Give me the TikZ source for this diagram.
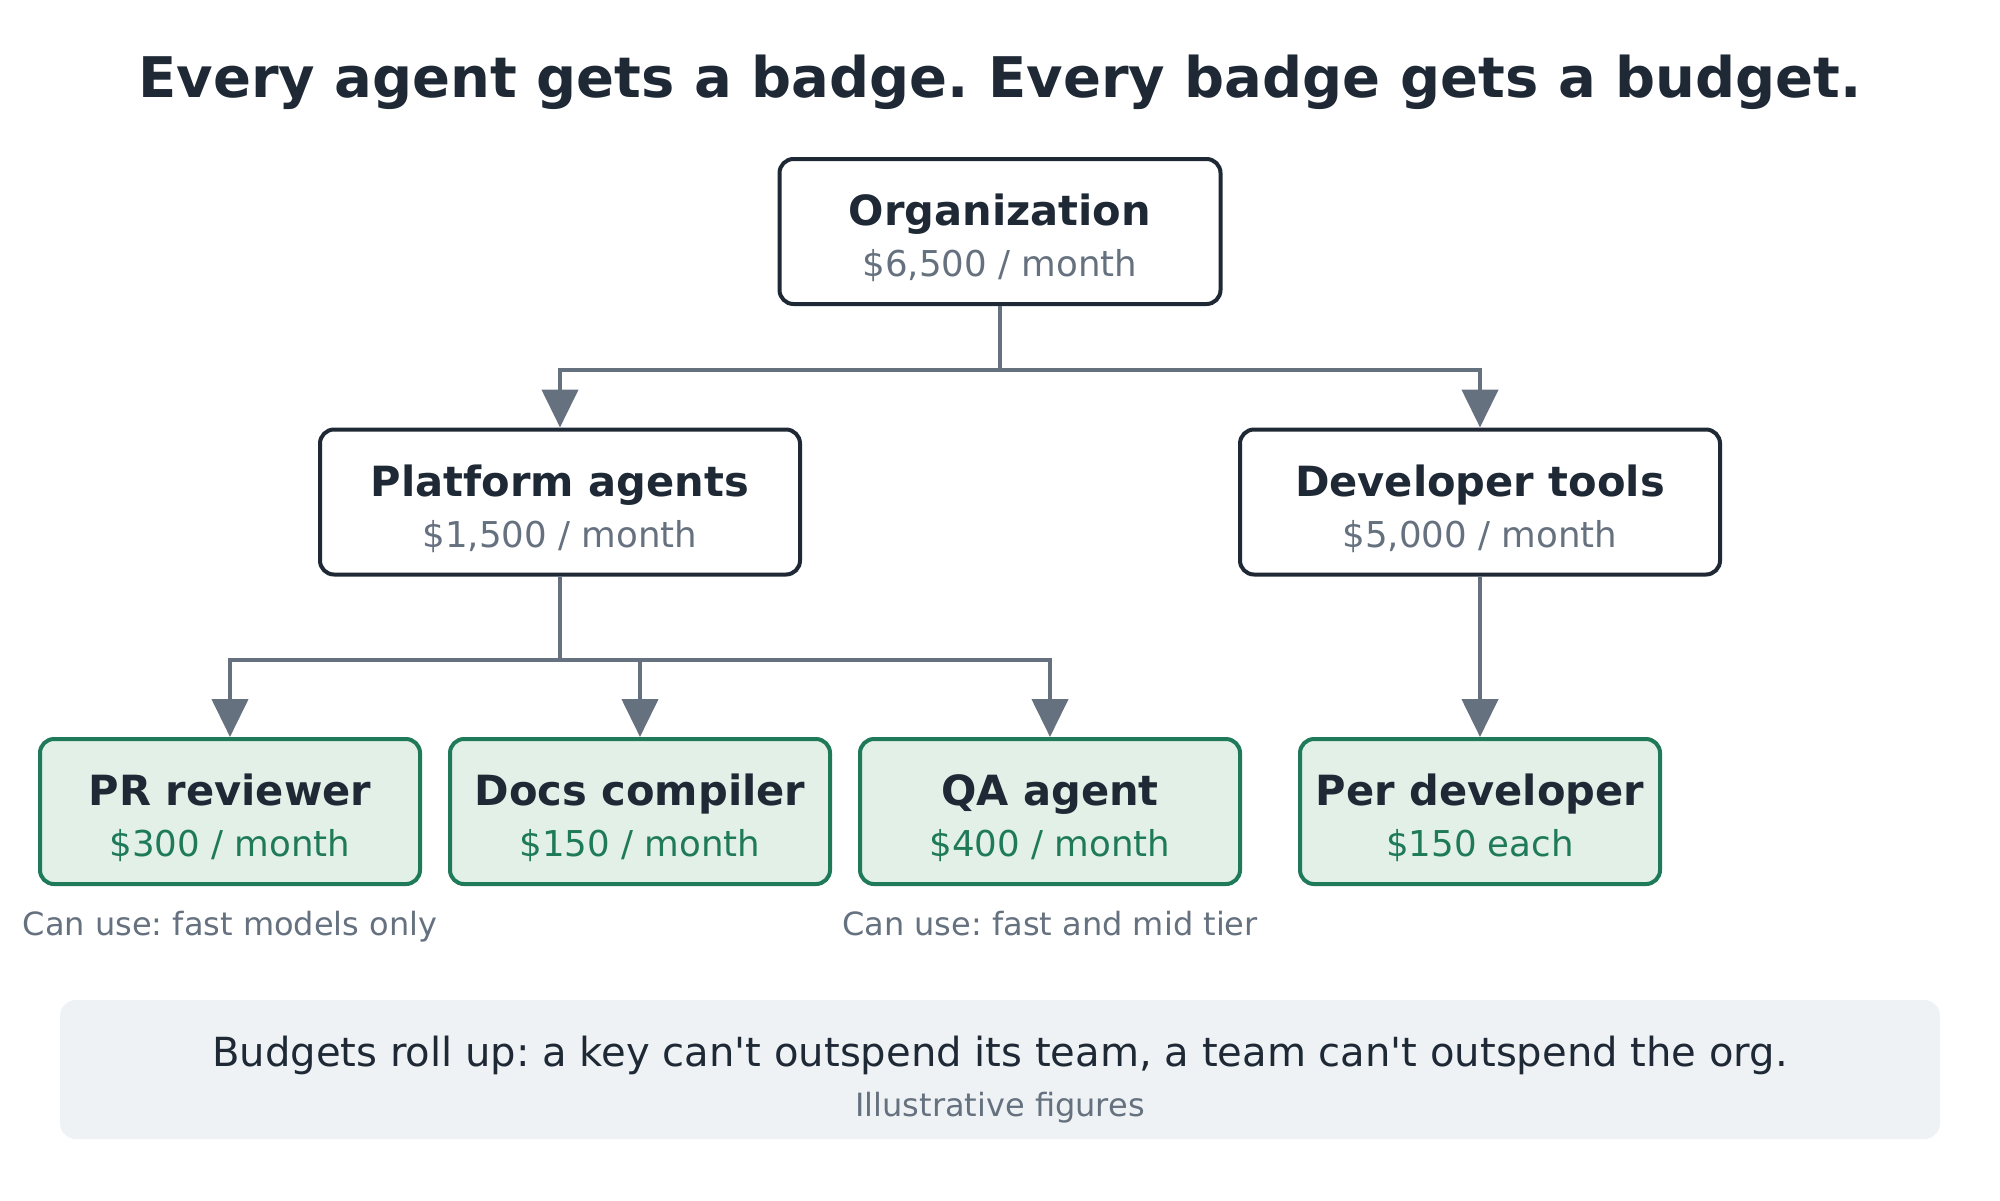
\documentclass[tikz,border=0pt]{standalone}
\usepackage{fontspec}
\setmainfont{DejaVu Sans}[Ligatures=TeXOff]
\usetikzlibrary{arrows.meta}
\definecolor{ink}{HTML}{1E2935}
\definecolor{muted}{HTML}{66717F}
\definecolor{leafgreen}{HTML}{1F7A5A}
\definecolor{leaffill}{HTML}{E2F0E8}
\definecolor{panelfill}{HTML}{EEF2F5}
\begin{document}
\frenchspacing
\begin{tikzpicture}[x=0.5pt,y=-0.5pt,
  teambox/.style={draw=ink, line width=2pt, rounded corners=7pt, fill=white, inner sep=0pt, minimum height=72.5pt},
  leafbox/.style={draw=leafgreen, line width=2pt, rounded corners=7pt, fill=leaffill, inner sep=0pt, minimum height=72.5pt, minimum width=190pt},
  ttl/.style={anchor=base, inner sep=0pt, text=ink, font=\fontsize{20.8pt}{24pt}\selectfont\bfseries},
  subtxt/.style={anchor=base, inner sep=0pt, text=muted, font=\fontsize{17.8pt}{21pt}\selectfont},
  leafsub/.style={anchor=base, inner sep=0pt, text=leafgreen, font=\fontsize{17.8pt}{21pt}\selectfont},
  notetxt/.style={anchor=base, inner sep=0pt, text=muted, font=\fontsize{16pt}{19pt}\selectfont},
  conn/.style={draw=muted, line width=2.2pt, -{Triangle[length=19pt,width=18pt]}},
  connplain/.style={draw=muted, line width=2.2pt}
]
\useasboundingbox (0,0) rectangle (2000,1200);

\node[anchor=base, inner sep=0pt, text=ink, font=\fontsize{28pt}{33pt}\selectfont\bfseries] (title) at (1000,97) {Every agent gets a badge. Every badge gets a budget.};

% boxes
\node[teambox, minimum width=220.5pt] (org) at (1000,231.5) {};
\node[teambox, minimum width=240pt] (plat) at (560,502) {};
\node[teambox, minimum width=240pt] (dev) at (1480,502) {};
\node[leafbox] (pr) at (230,811.5) {};
\node[leafbox] (docs) at (640,811.5) {};
\node[leafbox] (qa) at (1050,811.5) {};
\node[leafbox, minimum width=180pt] (perdev) at (1480,811.5) {};

% texts
\node[ttl] (orgT) at (1000,225) {Organization};
\node[subtxt] (orgS) at (1000,276) {\$6,500 / month};
\node[ttl] (platT) at (560,496) {Platform agents};
\node[subtxt] (platS) at (560,547) {\$1,500 / month};
\node[ttl] (devT) at (1480,496) {Developer tools};
\node[subtxt] (devS) at (1480,547) {\$5,000 / month};
\node[ttl] (prT) at (230,805) {PR reviewer};
\node[leafsub] (prS) at (230,856) {\$300 / month};
\node[ttl] (docsT) at (640,805) {Docs compiler};
\node[leafsub] (docsS) at (640,856) {\$150 / month};
\node[ttl] (qaT) at (1050,805) {QA agent};
\node[leafsub] (qaS) at (1050,856) {\$400 / month};
\node[ttl] (perdevT) at (1480,805) {Per developer};
\node[leafsub] (perdevS) at (1480,856) {\$150 each};

\node[notetxt] (prC) at (230,935) {Can use: fast models only};
\node[notetxt] (qaC) at (1050,935) {Can use: fast and mid tier};

% connectors
\coordinate (j1) at (1000,370);
\coordinate (j2) at (560,660);
\draw[connplain] (org.south) -- (j1);
\draw[conn] (j1) -| (plat.north);
\draw[conn] (j1) -| (dev.north);
\draw[connplain] (plat.south) -- (j2);
\draw[conn] (j2) -| (pr.north);
\draw[conn] (j2) -| (docs.north);
\draw[conn] (j2) -| (qa.north);
\draw[conn] (dev.south) -- (perdev.north);

% panel
\node[fill=panelfill, rounded corners=8pt, minimum width=940pt, minimum height=69.5pt, inner sep=0pt] (panel) at (1000,1069.5) {};
\node[anchor=base, inner sep=0pt, text=ink, font=\fontsize{20.05pt}{24pt}\selectfont] (panelT) at (1000,1066) {Budgets roll up: a key can't outspend its team, a team can't outspend the org.};
\node[notetxt] (panelS) at (1000,1116) {Illustrative figures};
\end{tikzpicture}
\end{document}
